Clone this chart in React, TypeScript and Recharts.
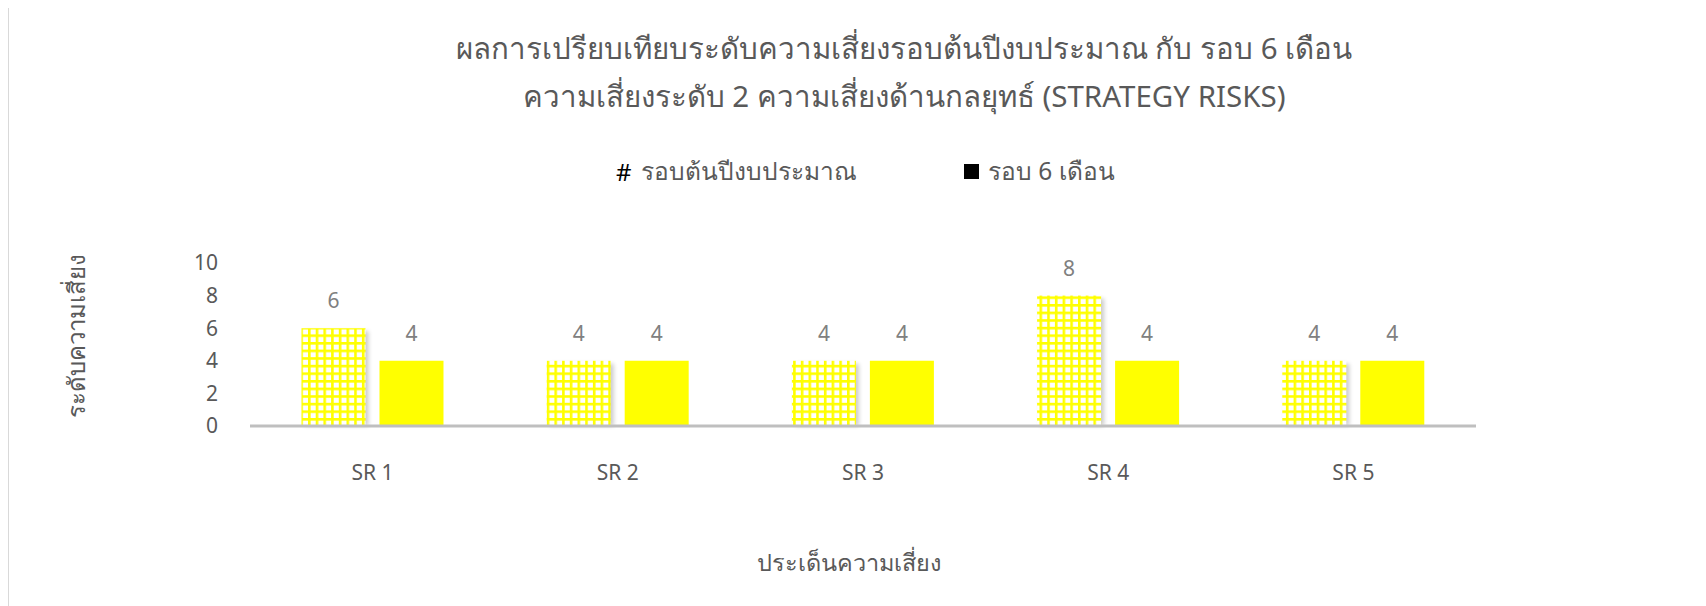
import React from 'react';
import { BarChart, Bar, XAxis, YAxis, LabelList } from 'recharts';

const categories = ['SR 1', 'SR 2', 'SR 3', 'SR 4', 'SR 5'];
const startOfYear = [6, 4, 4, 8, 4];
const sixMonths = [4, 4, 4, 4, 4];
const yTicks = [0, 2, 4, 6, 8, 10];
const seriesNames = ['รอบต้นปีงบประมาณ', 'รอบ 6 เดือน'];
const titleLines = [
  'ผลการเปรียบเทียบระดับความเสี่ยงรอบต้นปีงบประมาณ กับ รอบ 6 เดือน',
  'ความเสี่ยงระดับ 2 ความเสี่ยงด้านกลยุทธ์ (STRATEGY RISKS)',
];
const xTitle = 'ประเด็นความเสี่ยง';
const yTitle = 'ระดับความเสี่ยง';

const data = categories.map((c, i) => ({ name: c, a: startOfYear[i], b: sixMonths[i] }));

const FONT = "'Noto Sans', 'Open Sans', sans-serif";
const YELLOW = '#ffff00';

const PatternBar = (props: any) => {
  const { x, y, width, height } = props;
  if (!height) return null;
  return (
    <g>
      <rect x={x + 3} y={y + 3} width={width} height={height - 3} fill="#000" opacity={0.2} filter="url(#barShadowBlur)" />
      <rect x={x} y={y} width={width} height={height} fill="url(#gridPattern)" />
    </g>
  );
};

export default function App() {
  return (
    <div style={{ position: 'relative', width: 1706, height: 606, margin: '-8px 0 0 -8px', background: '#fff', overflow: 'hidden', fontFamily: FONT }}>
      <svg width={0} height={0} style={{ position: 'absolute' }}>
        <defs>
          <pattern id="gridPattern" patternUnits="userSpaceOnUse" width={7.7} height={7.6}>
            <rect x={0} y={0} width={7.7} height={7.6} fill="#fff" />
            <rect x={0} y={0} width={2.6} height={7.6} fill={YELLOW} />
            <rect x={0} y={0} width={7.7} height={2.6} fill={YELLOW} />
          </pattern>
          <filter id="barShadowBlur" x="-20%" y="-20%" width="140%" height="140%">
            <feGaussianBlur stdDeviation={2} />
          </filter>
        </defs>
      </svg>
      <div style={{ position: 'absolute', left: 7, top: 4, width: 1720, height: 620, borderTop: '2px solid #d9d9d9', borderLeft: '2px solid #d9d9d9' }} />
      <div style={{ position: 'absolute', left: 0, top: 0 }}>
        <BarChart
          width={1706}
          height={606}
          data={data}
          margin={{ top: 263, right: 230, bottom: 150, left: 190 }}
          barCategoryGap="21%"
          barGap={14}
        >
          <XAxis
            dataKey="name"
            height={30}
            axisLine={{ stroke: '#bfbfbf', strokeWidth: 3 }}
            tickLine={false}
            tickSize={0}
            tickMargin={39}
            tick={{ fill: '#595959', fontSize: 21, fontFamily: FONT }}
          />
          <YAxis
            width={60}
            domain={[0, 10]}
            ticks={yTicks}
            axisLine={false}
            tickLine={false}
            tickSize={0}
            tickMargin={32}
            tick={{ fill: '#595959', fontSize: 21, fontFamily: FONT }}
          />
          <Bar dataKey="a" name={seriesNames[0]} fill="url(#gridPattern)" shape={PatternBar} isAnimationActive={false}>
            <LabelList dataKey="a" position="top" offset={20} fill="#808080" fontSize={21} fontFamily={FONT} />
          </Bar>
          <Bar dataKey="b" name={seriesNames[1]} fill={YELLOW} isAnimationActive={false}>
            <LabelList dataKey="b" position="top" offset={20} fill="#808080" fontSize={21} fontFamily={FONT} />
          </Bar>
        </BarChart>
      </div>
      <div style={{ position: 'absolute', left: 0, width: 1808, top: 24, textAlign: 'center', color: '#595959', fontSize: 29.5, lineHeight: '48px' }}>
        <div>{titleLines[0]}</div>
        <div>{titleLines[1]}</div>
      </div>
      <div style={{ position: 'absolute', left: 616, top: 156, height: 30, display: 'flex', alignItems: 'center', fontSize: 24.5, color: '#595959' }}>
        <span style={{ color: '#000', fontSize: 24, marginRight: 9 }}>#</span>
        <span>{seriesNames[0]}</span>
      </div>
      <div style={{ position: 'absolute', left: 964, top: 156, height: 30, display: 'flex', alignItems: 'center', fontSize: 24.5, color: '#595959' }}>
        <span style={{ display: 'inline-block', width: 15, height: 15, background: '#000', marginRight: 9 }} />
        <span>{seriesNames[1]}</span>
      </div>
      <div style={{ position: 'absolute', left: 849, top: 562, transform: 'translate(-50%, -50%)', fontSize: 23.5, color: '#595959', whiteSpace: 'nowrap' }}>
        {xTitle}
      </div>
      <div style={{ position: 'absolute', left: 76, top: 336, transform: 'translate(-50%, -50%) rotate(-90deg)', fontSize: 24, color: '#595959', whiteSpace: 'nowrap' }}>
        {yTitle}
      </div>
    </div>
  );
}
